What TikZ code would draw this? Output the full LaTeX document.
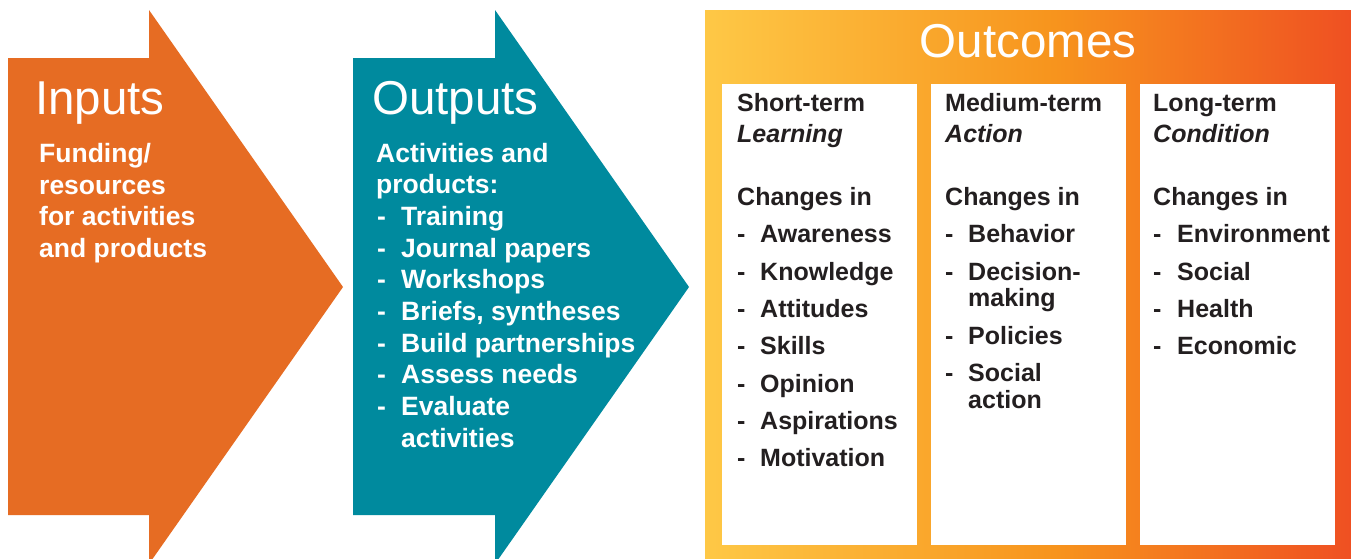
\documentclass[tikz,border=0pt]{standalone}
\usepackage{fontspec}
\setmainfont{Liberation Sans}
\definecolor{inorange}{HTML}{E66C23}
\definecolor{outteal}{HTML}{008A9E}
\definecolor{gA}{HTML}{FEC846}
\definecolor{gB}{HTML}{F7941D}
\definecolor{gC}{HTML}{EF5022}
\definecolor{ink}{HTML}{231F20}
\pgfdeclarehorizontalshading{outgrad}{100bp}{color(0bp)=(gA); color(25bp)=(gA); color(52bp)=(gB); color(75bp)=(gC); color(100bp)=(gC)}
\tikzset{
  bigtitle/.style={inner sep=0pt, anchor=base west, text=white, font=\fontsize{47.5}{50}\selectfont},
  whitetxt/.style={inner sep=0pt, anchor=base west, text=white, font=\fontsize{26.5}{31.7}\selectfont\bfseries},
  coltxt/.style={inner sep=0pt, anchor=base west, text=ink, font=\fontsize{25}{26.5}\selectfont\bfseries},
  colbox/.style={fill=white, draw=none},
}
\begin{document}
\begin{tikzpicture}[x=1pt,y=-1pt]
\useasboundingbox (0,0) rectangle (1351,558);
\clip (0,0) rectangle (1351,558);
\fill[white] (0,0) rectangle (1351,558);
% Inputs arrow
\fill[inorange] (8,58) -- (149,58) -- (149,10) -- (343,287) -- (149,564) -- (149,515) -- (8,515) -- cycle;
% Outputs arrow
\fill[outteal] (353,58) -- (495,58) -- (495,10) -- (689,287) -- (495,564) -- (495,515) -- (353,515) -- cycle;
% Outcomes panel
\shade[shading=outgrad] (705,10) rectangle (1351,558);
\fill[colbox] (722,84) rectangle (917,545);
\fill[colbox] (931,84) rectangle (1126,545);
\fill[colbox] (1140,84) rectangle (1335,545);

% Inputs text
\node[bigtitle] (intitle) at (35,114.6) {Inputs};
\node[whitetxt, align=left, anchor=north west] (inbody) at (39,143) {Funding/\\resources\\for activities\\and products};

% Outputs text
\node[bigtitle] (outtitle) at (372,114.6) {Outputs};
\node[whitetxt] (o1) at (376,162) {Activities and};
\node[whitetxt] (o2) at (376,193.7) {products:};
\foreach \t [count=\i] in {Training,Journal papers,Workshops,{Briefs, syntheses},Build partnerships,Assess needs,Evaluate} {
  \node[whitetxt] (od\i) at (377,193.7+31.7*\i) {-};
  \node[whitetxt] (oi\i) at (401,193.7+31.7*\i) {\t};
}
\node[whitetxt] (oi8) at (401,447.3) {activities};

% Outcomes title
\node[bigtitle, anchor=base] (octitle) at (1028,57) {Outcomes};

% Column 1
\node[coltxt] (c1h) at (737,111) {Short-term};
\node[coltxt] (c1s) at (737,142) {\itshape Learning};
\node[coltxt] (c1c) at (737,205) {Changes in};
\foreach \t/\y [count=\i] in {Awareness/242,Knowledge/280,Attitudes/317,Skills/354,Opinion/392,Aspirations/429,Motivation/466} {
  \node[coltxt] (c1d\i) at (737,\y) {-};
  \node[coltxt] (c1i\i) at (760,\y) {\t};
}
% Column 2
\node[coltxt] (c2h) at (945,111) {Medium-term};
\node[coltxt] (c2s) at (945,142) {\itshape Action};
\node[coltxt] (c2c) at (945,205) {Changes in};
\node[coltxt] (c2d1) at (945,242) {-};
\node[coltxt] (c2i1) at (968,242) {Behavior};
\node[coltxt] (c2d2) at (945,280) {-};
\node[coltxt] (c2i2) at (968,280) {Decision-};
\node[coltxt] (c2i2b) at (968,306) {making};
\node[coltxt] (c2d3) at (945,344) {-};
\node[coltxt] (c2i3) at (968,344) {Policies};
\node[coltxt] (c2d4) at (945,381) {-};
\node[coltxt] (c2i4) at (968,381) {Social};
\node[coltxt] (c2i4b) at (968,408) {action};
% Column 3
\node[coltxt] (c3h) at (1153,111) {Long-term};
\node[coltxt] (c3s) at (1153,142) {\itshape Condition};
\node[coltxt] (c3c) at (1153,205) {Changes in};
\foreach \t/\y [count=\i] in {Environment/242,Social/280,Health/317,Economic/354} {
  \node[coltxt] (c3d\i) at (1153,\y) {-};
  \node[coltxt] (c3i\i) at (1177,\y) {\t};
}
\end{tikzpicture}
\end{document}
